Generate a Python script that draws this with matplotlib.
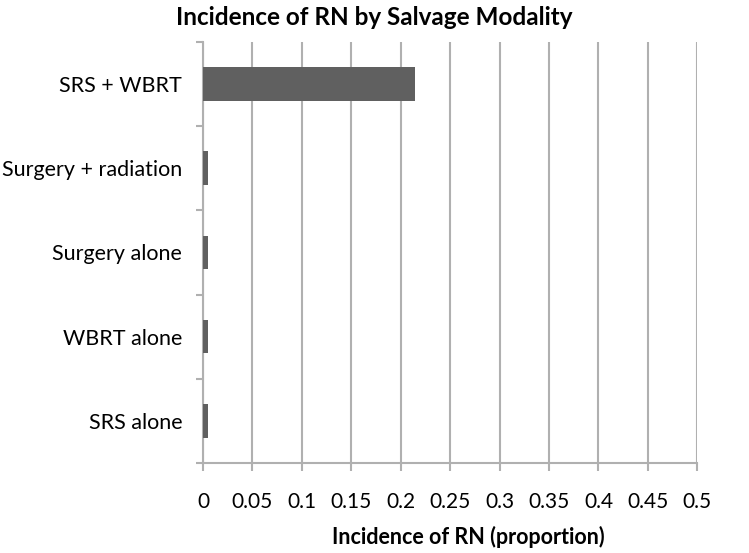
import numpy as np
import matplotlib.pyplot as plt

categories = ["SRS alone", "WBRT alone", "Surgery alone", "Surgery + radiation", "SRS + WBRT"]
incidence = [0.005, 0.005, 0.005, 0.005, 0.214]
xticks = [0, 0.05, 0.1, 0.15, 0.2, 0.25, 0.3, 0.35, 0.4, 0.45, 0.5]
xtick_labels = ["0", "0.05", "0.1", "0.15", "0.2", "0.25", "0.3", "0.35", "0.4", "0.45", "0.5"]

plt.rcParams['font.family'] = ['Lato', 'DejaVu Sans']

fig = plt.figure(figsize=(7.49, 5.53), dpi=100)
ax = fig.add_axes([0.271, 0.163, 0.66, 0.761])

y = np.arange(len(categories))
ax.barh(y, incidence, height=0.4, color='#606060', zorder=3)

ax.set_xlim(0, 0.5)
ax.set_ylim(-0.5, len(categories) - 0.5)
ax.set_xticks(xticks)
ax.set_xticklabels(xtick_labels, fontsize=15)
ax.set_yticks(y)
ax.set_yticklabels(categories, fontsize=15.5)
ax.tick_params(axis='y', length=0, pad=15)
ax.tick_params(axis='x', length=6, color='#b0b0b0', width=1.5, pad=15)

# category boundary ticks on the y axis
ax.set_yticks(np.arange(-0.5, len(categories)), minor=True)
ax.tick_params(axis='y', which='minor', length=5, color='#b0b0b0', width=1.5)

ax.grid(axis='x', color='#b0b0b0', linewidth=1.5, zorder=0)
for s in ['top', 'right']:
    ax.spines[s].set_visible(False)
for s in ['left', 'bottom']:
    ax.spines[s].set_color('#b0b0b0')
    ax.spines[s].set_linewidth(1.5)

ax.set_xlabel("Incidence of RN (proportion)", fontsize=15.5, fontweight='bold', va='center')
ax.xaxis.set_label_coords(0.536, -0.175)
fig.suptitle("Incidence of RN by Salvage Modality", fontsize=17.5, fontweight='bold', x=0.5, y=0.99)

fig.savefig("out.png", dpi=100)
